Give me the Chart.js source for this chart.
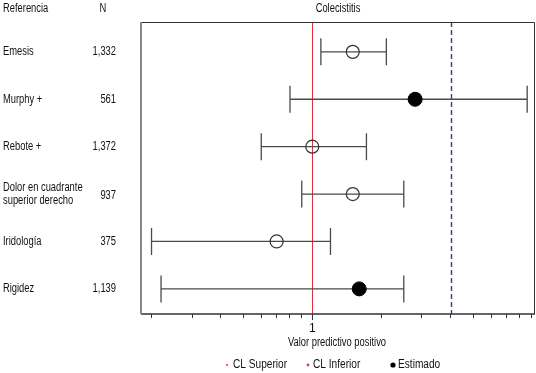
<!DOCTYPE html>
<html>
<head>
<meta charset="utf-8">
<script src="https://cdn.jsdelivr.net/npm/chart.js@4"></script>
<style>
  body { margin: 0; background: #fff; }
  #wrap { width: 536px; height: 373px; }
</style>
</head>
<body>
<div id="wrap"><canvas id="myChart" width="536" height="373"></canvas></div>
<script>
// datos
const categorias = ['Emesis', 'Murphy +', 'Rebote +', 'Dolor en cuadrante\nsuperior derecho', 'Iridología', 'Rigidez'];
const nPacientes = ['1,332', '561', '1,372', '937', '375', '1,139'];
const clInferior = [1.09, 0.80, 0.60, 0.90, 0.20, 0.22];
const estimado   = [1.50, 2.80, 1.00, 1.50, 0.70, 1.60];
const clSuperior = [2.10, 8.60, 1.72, 2.50, 1.20, 2.50];
const relleno    = [false, true, false, false, false, true];
const tickVals   = [0.2, 0.3, 0.4, 0.5, 0.6, 0.7, 0.8, 0.9, 1, 2, 3, 4, 5, 6, 7, 8, 9];
const tickLabels = ['1'];
const lineaRef = 1;
const lineaPunteada = 4;

const FONT = "'Liberation Sans', Arial, sans-serif";
const filas = categorias.map((c, i) => i + 1);

const abiertos = [], llenos = [];
for (var i = 0; i < estimado.length; i++) {
  if (relleno[i]) llenos.push({x: estimado[i], y: filas[i]});
  else abiertos.push({x: estimado[i], y: filas[i]});
}

// texto angosto (la figura usa una letra condensada)
function texto(ctx, t, x, y, align, sx) {
  ctx.save();
  ctx.translate(x, y);
  ctx.scale(sx || 0.78, 1);
  ctx.textAlign = align;
  ctx.fillText(t, 0, 0);
  ctx.restore();
}

// barras de error, lineas de referencia, marco y textos
const forestPlugin = {
  id: 'forest',
  beforeDatasetsDraw(chart) {
    const ctx = chart.ctx;
    const xs = chart.scales.x, ys = chart.scales.y;
    const a = chart.chartArea;
    ctx.save();
    // linea en 1
    ctx.strokeStyle = '#e0303f';
    ctx.lineWidth = 1;
    let px = Math.round(xs.getPixelForValue(lineaRef)) + 0.5;
    ctx.beginPath(); ctx.moveTo(px, a.top); ctx.lineTo(px, a.bottom); ctx.stroke();
    // linea punteada
    ctx.strokeStyle = '#3a3a80';
    ctx.lineWidth = 1.4;
    ctx.setLineDash([5, 3]);
    px = Math.round(xs.getPixelForValue(lineaPunteada)) + 0.5;
    ctx.beginPath(); ctx.moveTo(px, a.top); ctx.lineTo(px, a.bottom); ctx.stroke();
    ctx.setLineDash([]);
    // intervalos
    ctx.strokeStyle = '#4a4a4a';
    ctx.lineWidth = 1.3;
    for (let i = 0; i < categorias.length; i++) {
      const y = ys.getPixelForValue(filas[i]);
      const x0 = xs.getPixelForValue(clInferior[i]);
      const x1 = xs.getPixelForValue(clSuperior[i]);
      ctx.beginPath();
      ctx.moveTo(x0, y); ctx.lineTo(x1, y);
      ctx.moveTo(x0, y - 13.5); ctx.lineTo(x0, y + 13.5);
      ctx.moveTo(x1, y - 13.5); ctx.lineTo(x1, y + 13.5);
      ctx.stroke();
    }
    ctx.restore();
  },
  afterDraw(chart) {
    const ctx = chart.ctx;
    const xs = chart.scales.x, ys = chart.scales.y;
    const a = chart.chartArea;
    ctx.save();
    // marco
    ctx.strokeStyle = '#333';
    ctx.lineWidth = 1;
    ctx.beginPath();
    ctx.moveTo(a.left, a.top + 0.5); ctx.lineTo(a.right - 0.5, a.top + 0.5);
    ctx.lineTo(a.right - 0.5, a.bottom);
    ctx.stroke();
    ctx.lineWidth = 1.5;
    ctx.beginPath(); ctx.moveTo(a.left, a.bottom); ctx.lineTo(a.right, a.bottom); ctx.stroke();
    ctx.strokeStyle = '#888';
    ctx.lineWidth = 2;
    ctx.beginPath(); ctx.moveTo(a.left, a.top); ctx.lineTo(a.left, a.bottom); ctx.stroke();
    // marca mayor en 1
    ctx.strokeStyle = '#333';
    ctx.lineWidth = 1;
    const p1 = Math.round(xs.getPixelForValue(lineaRef)) + 0.5;
    ctx.beginPath(); ctx.moveTo(p1, a.bottom); ctx.lineTo(p1, a.bottom + 6); ctx.stroke();

    ctx.fillStyle = '#111';
    ctx.font = '12px ' + FONT;
    ctx.textBaseline = 'middle';
    texto(ctx, 'Referencia', 3, 9, 'left');
    texto(ctx, 'N', 103, 9, 'center');
    texto(ctx, 'Colecistitis', (a.left + a.right) / 2, 9, 'center');
    texto(ctx, 'Valor predictivo positivo', 337, 343, 'center');

    for (let i = 0; i < categorias.length; i++) {
      const y = ys.getPixelForValue(filas[i]);
      const lineas = categorias[i].split('\n');
      lineas.forEach((t, k) => {
        texto(ctx, t, 3, y + (k - (lineas.length - 1) / 2) * 13, 'left');
      });
      texto(ctx, nPacientes[i], 116, y + (lineas.length > 1 ? 1.5 : 0), 'right');
    }

    // leyenda
    ctx.font = '12.5px ' + FONT;
    ctx.fillStyle = '#e07080';
    ctx.beginPath(); ctx.arc(227, 365, 1.2, 0, Math.PI * 2); ctx.fill();
    ctx.fillStyle = '#d9414f';
    ctx.beginPath(); ctx.arc(308, 365, 1.4, 0, Math.PI * 2); ctx.fill();
    ctx.fillStyle = '#000';
    ctx.beginPath(); ctx.arc(393, 365, 2.6, 0, Math.PI * 2); ctx.fill();
    ctx.fillStyle = '#111';
    texto(ctx, 'CL Superior', 233, 365, 'left', 0.81);
    texto(ctx, 'CL Inferior', 313, 365, 'left', 0.81);
    texto(ctx, 'Estimado', 398, 365, 'left', 0.81);
    ctx.restore();
  }
};

var ctx = document.getElementById('myChart').getContext('2d');
var myChart = new Chart(ctx, {
  type: 'scatter',
  data: {
    datasets: [{
      label: 'Estimado',
      data: abiertos,
      pointRadius: 6.5,
      pointBackgroundColor: 'rgba(255,255,255,0)',
      pointBorderColor: '#333',
      pointBorderWidth: 1.2
    }, {
      label: 'Estimado',
      data: llenos,
      pointRadius: 7,
      pointBackgroundColor: '#000',
      pointBorderColor: '#000',
      pointBorderWidth: 1
    }]
  },
  options: {
    responsive: false,
    animation: false,
    layout: { autoPadding: false, padding: { left: 141, top: 22, right: 1, bottom: 0 } },
    plugins: {
      legend: { display: false },
      tooltip: { enabled: false }
    },
    scales: {
      x: {
        type: 'logarithmic',
        min: 0.18,
        max: 9.3,
        afterBuildTicks: function (s) { s.ticks = tickVals.map(v => ({ value: v })); },
        afterFit: function (s) { s.height = 59; s.paddingLeft = 0; s.paddingRight = 0; },
        border: { display: false },
        grid: { drawOnChartArea: false, drawTicks: true, tickLength: 4, color: '#333', lineWidth: 1 },
        ticks: {
          autoSkip: false,
          maxRotation: 0,
          padding: 3,
          color: '#111',
          font: { family: FONT, size: 12 },
          callback: function (v) { return tickLabels.indexOf(String(v)) >= 0 ? String(v) : ''; }
        }
      },
      y: {
        type: 'linear',
        display: false,
        reverse: true,
        min: 0.37,
        max: 6.53
      }
    }
  },
  plugins: [forestPlugin]
});
</script>
</body>
</html>
